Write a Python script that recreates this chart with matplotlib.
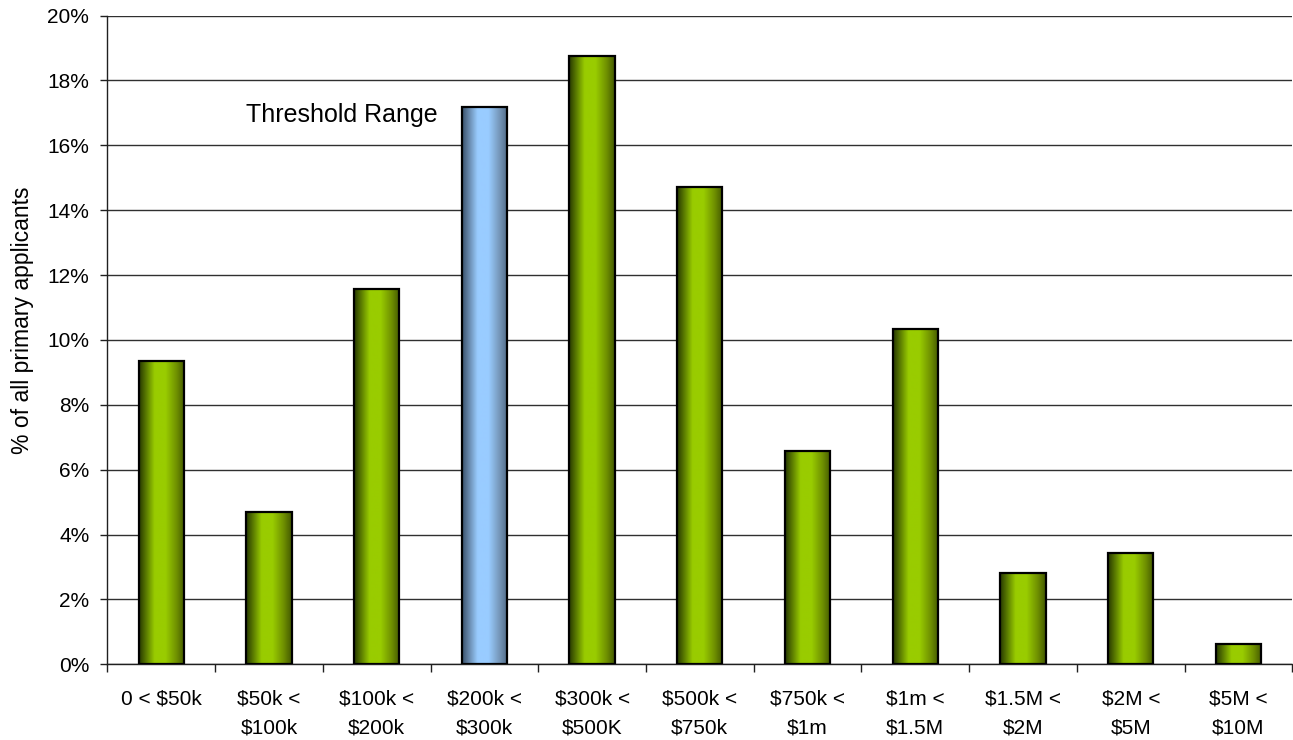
import numpy as np
import matplotlib
matplotlib.use("Agg")
import matplotlib.pyplot as plt
from matplotlib.colors import LinearSegmentedColormap
from matplotlib.ticker import FixedLocator, FuncFormatter

categories = ["0 < $50k", "$50k <\n$100k", "$100k <\n$200k", "$200k <\n$300k",
              "$300k <\n$500K", "$500k <\n$750k", "$750k <\n$1m", "$1m <\n$1.5M",
              "$1.5M <\n$2M", "$2M <\n$5M", "$5M <\n$10M"]
values = [9.36, 4.68, 11.57, 17.17, 18.76, 14.71, 6.58, 10.34, 2.82, 3.44, 0.62]
highlight = [False, False, False, True, False, False, False, False, False, False, False]
y_ticks = [0, 2, 4, 6, 8, 10, 12, 14, 16, 18, 20]
ylabel = "% of all primary applicants"
annotation = "Threshold Range"

plt.rcParams['font.family'] = ['Liberation Sans', 'DejaVu Sans']

green_cmap = LinearSegmentedColormap.from_list("g", [
    (0.0, "#263800"), (0.14, "#557400"), (0.34, "#99cc00"),
    (0.58, "#99cc00"), (0.82, "#6f9000"), (1.0, "#435800")])
blue_cmap = LinearSegmentedColormap.from_list("b", [
    (0.0, "#38506a"), (0.14, "#6484a6"), (0.34, "#99ccff"),
    (0.58, "#99ccff"), (0.82, "#7596b8"), (1.0, "#506a86")])

fig = plt.figure(figsize=(12.93, 7.40), dpi=100)
ax = fig.add_axes([0.083, 0.1023, 0.9165, 0.8767])

x = np.arange(len(categories))
bars = ax.bar(x, values, width=0.42, facecolor="none", edgecolor="black",
              linewidth=1.6, zorder=3)

grad = np.linspace(0, 1, 256).reshape(1, -1)
for b, hl in zip(bars, highlight):
    x0, w, h = b.get_x(), b.get_width(), b.get_height()
    im = ax.imshow(grad, cmap=blue_cmap if hl else green_cmap, aspect="auto",
                   extent=[x0, x0 + w, 0, h], zorder=2, interpolation="bilinear")
    im.set_clip_path(b)

ax.set_xlim(-0.5, len(categories) - 0.5)
ax.set_ylim(0, 20)

ax.yaxis.set_major_locator(FixedLocator(y_ticks))
ax.yaxis.set_major_formatter(FuncFormatter(lambda v, p: f"{v:.0f}%"))
ax.grid(axis="y", color="#303030", linewidth=1.0, zorder=1)
ax.set_axisbelow(True)

ax.set_xticks(x)
ax.set_xticklabels(categories, fontsize=15, va="top")
for t in ax.get_xticklabels():
    t.set_linespacing(1.68)
ax.set_xticks(np.arange(-0.5, len(categories) + 0.5, 1), minor=True)
ax.tick_params(axis="x", which="major", length=0, pad=18)
ax.tick_params(axis="x", which="minor", length=6, width=1, color="#202020", direction="out")
ax.tick_params(axis="y", length=5, width=1, color="#202020", pad=8, labelsize=15)

for s in ["top", "right"]:
    ax.spines[s].set_visible(False)
ax.spines["left"].set_color("#202020")
ax.spines["bottom"].set_color("#202020")
ax.spines["left"].set_linewidth(1)
ax.spines["bottom"].set_linewidth(1)

ax.set_ylabel(ylabel, fontsize=16.5)
ax.yaxis.set_label_coords(-0.062, 0.53)

ax.text(1.68, 16.93, annotation, fontsize=18, ha="center", va="center", zorder=4)

fig.savefig("out.png", dpi=100)
